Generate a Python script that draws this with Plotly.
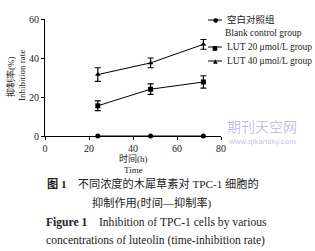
import plotly.graph_objects as go

times = [24, 48, 72]
blank = [0, 0, 0]
lut20 = [15.5, 24, 27.7]
lut20_err = [2.5, 2.7, 3.2]
lut40 = [31.5, 37.5, 47]
lut40_err = [3.5, 2.5, 2.5]

names = ["空白对照组", "LUT 20 μmol/L group", "LUT 40 μmol/L group"]
name_en0 = "Blank control group"
x_ticks = [0, 20, 40, 60, 80]
y_ticks = [0, 20, 40, 60]

FONT = "Liberation Serif, Noto Sans CJK SC, serif"

fig = go.Figure()
series = [
    (blank, None, "circle", names[0]),
    (lut20, lut20_err, "square", names[1]),
    (lut40, lut40_err, "triangle-up", names[2]),
]
for vals, err, sym, nm in series:
    fig.add_trace(go.Scatter(
        x=times, y=vals, name=nm, mode="lines+markers", showlegend=False,
        line=dict(color="black", width=1),
        marker=dict(symbol=sym, size=5, color="black"),
        error_y=dict(type="data", array=err, visible=err is not None,
                     color="black", thickness=1.2, width=3),
        cliponaxis=False,
    ))

W, H = 315, 251
L, R, T, B = 45, 94, 19, 115
pw = W - L - R
ph = H - T - B

def py(ypx):
    return (H - B - ypx) / ph

def px_x(xpx):
    return (xpx - L) / pw

fig.update_layout(
    width=W, height=H,
    margin=dict(l=L, r=R, t=T, b=B),
    paper_bgcolor="white", plot_bgcolor="white",
    font=dict(family=FONT, size=9, color="#222"),
    showlegend=False,
    xaxis=dict(range=[0, 80], tickvals=x_ticks, showgrid=False, zeroline=False,
               showline=True, linecolor="black", linewidth=1,
               ticks="outside", ticklen=3, tickcolor="black",
               tickfont=dict(size=10, family=FONT)),
    yaxis=dict(range=[0, 60], tickvals=y_ticks, showgrid=False, zeroline=False,
               showline=True, linecolor="black", linewidth=1,
               ticks="outside", ticklen=3, tickcolor="black",
               tickfont=dict(size=10, family=FONT)),
)

def text(t, xx, yy, sz, anchor="center", angle=0, color="#222", family=FONT):
    fig.add_annotation(text=t, xref="paper", yref="paper", x=px_x(xx), y=py(yy),
                       xanchor=anchor, yanchor="middle", textangle=angle,
                       showarrow=False, font=dict(size=sz, family=family, color=color))

# y-axis titles
text("抑制率(%)", 10, 77, 9, angle=-90)
text("Inhibition rate", 22, 76, 9, angle=-90)
# x-axis titles
text("时间(h)", 133, 158.5, 9)
text("Time", 133, 170, 9)

# legend (manual)
sym_chars = ["●", "■", "▲"]
leg_y = [20, 47, 61]
for ch, nm, yy in zip(sym_chars, names, leg_y):
    fig.add_shape(type="line", xref="paper", yref="paper",
                  x0=px_x(208), x1=px_x(222), y0=py(yy), y1=py(yy),
                  line=dict(color="black", width=1))
    text(ch, 215, yy, 6, color="black", family="DejaVu Sans")
    text(nm, 225, yy, 9.5, anchor="left")
text(name_en0, 223, 33, 9.5, anchor="left")

# caption
text("<b>图 1</b>    不同浓度的木犀草素对 TPC-1 细胞的", 45, 184, 11.2, anchor="left")
text("抑制作用(时间—抑制率)", 90, 203, 11.2, anchor="left")
text("<b>Figure 1</b>    Inhibition of TPC-1 cells by various", 44, 222, 11.6, anchor="left")
text("concentrations of luteolin (time-inhibition rate)", 44, 240, 11.6, anchor="left")

# watermark
text("期刊天空网", 262, 126, 14, color="rgba(120,110,190,0.45)", family="Noto Sans CJK SC")
text("www.qikansky.com", 262, 141, 8, color="rgba(120,110,190,0.45)", family="Liberation Sans")

fig.write_html("out.html")
